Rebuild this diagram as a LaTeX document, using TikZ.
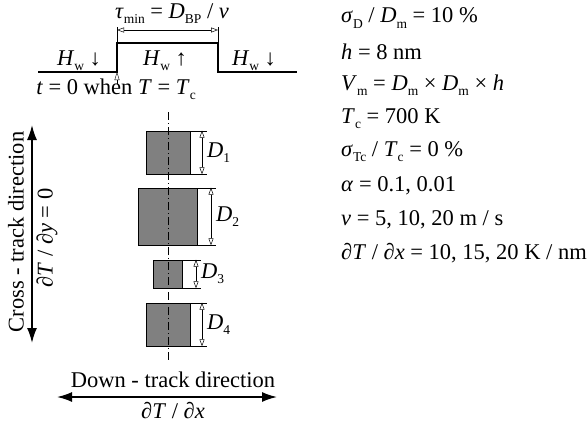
\documentclass[tikz,border=0pt]{standalone}
\usepackage{fontspec}
\setmainfont{Liberation Serif}
\usetikzlibrary{arrows.meta}
\newcommand\lo[1]{\raisebox{-0.5ex}{\fontsize{13.5}{13.5}\selectfont #1}}
\newcommand\iv[1]{\textit{#1}}
\begin{document}
\begin{tikzpicture}[x=1pt,y=-1pt,
  txt/.style={font=\fontsize{22.5}{26}\selectfont, inner sep=0pt},
  pulse/.style={line width=1.1pt},
  thin/.style={line width=0.4pt},
  dimarr/.style={line width=0.5pt,{Triangle[open,length=7pt,width=5pt]}-{Triangle[open,length=7pt,width=5pt]}},
  bigarr/.style={line width=1.6pt,{Latex[length=15pt,width=10pt]}-{Latex[length=15pt,width=10pt]}},
  sq/.style={draw=black, line width=0.6pt, fill=black!50, inner sep=0pt},
  axis/.style={line width=0.6pt, dash pattern=on 8pt off 3pt on 1pt off 3pt}]
\useasboundingbox (0,0) rectangle (587,423);
% pulse
\coordinate (p0) at (38,72);
\coordinate (p1) at (117,72);
\coordinate (p2) at (117,43);
\coordinate (p3) at (218,43);
\coordinate (p4) at (218,72);
\coordinate (p5) at (297,72);
\draw[pulse] (p0) -- (p1) -- (p2) -- (p3) -- (p4) -- (p5);
\coordinate (e1) at (117,27);
\coordinate (e2) at (218,27);
\draw[thin] (e1) -- (p2);
\draw[thin] (e2) -- (p3);
\coordinate (a1) at (117,30);
\coordinate (a2) at (218,30);
\draw[dimarr] (a1) -- (a2);
\coordinate (t0) at (117,84);
\draw[thin,-{Triangle[open,length=8pt,width=5pt]}] (t0) -- (p1);
\node[txt] (tau) at (172,14) {\iv{τ}\lo{min} = \iv{D}\lo{BP} / \iv{v}};
\node[txt] (hw1) at (79,61) {\iv{H}\lo{w} ↓};
\node[txt] (hw2) at (165,61) {\iv{H}\lo{w} ↑};
\node[txt] (hw3) at (254,61) {\iv{H}\lo{w} ↓};
\node[txt] (t0txt) at (116,89) {\iv{t} = 0 when \iv{T} = \iv{T}\lo{c}};
% squares
\node[sq, minimum width=44pt, minimum height=43pt] (s1) at (168,152.5) {};
\node[sq, minimum width=59pt, minimum height=57pt] (s2) at (167.5,216.5) {};
\node[sq, minimum width=29pt, minimum height=28pt] (s3) at (167.5,274) {};
\node[sq, minimum width=44pt, minimum height=43pt] (s4) at (168,324.5) {};
\coordinate (ax1) at (168,112);
\coordinate (ax2) at (168,362);
\draw[axis] (ax1) -- (ax2);
% dimensions
\foreach \s/\dx/\lab/\ly in {s1/202/1/152.5, s2/211/2/216.5, s3/196/3/274, s4/202/4/324.5}{
  \coordinate (\s t) at (\dx+5, 0 |- \s.north);
  \coordinate (\s b) at (\dx+5, 0 |- \s.south);
  \draw[thin] (\s.north east) -- (\s t);
  \draw[thin] (\s.south east) -- (\s b);
  \coordinate (\s dt) at (\dx, 0 |- \s.north);
  \coordinate (\s db) at (\dx, 0 |- \s.south);
  \draw[dimarr] (\s dt) -- (\s db);
  \node[txt, anchor=west] (\s lab) at (\dx+5,\ly) {\iv{D}\lo{\lab}};
}
% cross-track
\coordinate (c1) at (32,125);
\coordinate (c2) at (32,343);
\draw[bigarr] (c1) -- (c2);
\node[txt, rotate=90] (ct1) at (16,232) {Cross - track direction};
\node[txt, rotate=90] (ct2) at (47,238) {∂\iv{T} / ∂\iv{y} = 0};
% down-track
\coordinate (d1) at (57,397);
\coordinate (d2) at (277,397);
\draw[bigarr] (d1) -- (d2);
\node[txt] (dt1) at (173,380) {Down - track direction};
\node[txt] (dt2) at (173,411) {∂\iv{T} / ∂\iv{x}};
% parameters
\node[txt, anchor=west] (r1) at (341,18) {\iv{σ}\lo{D} / \iv{D}\lo{m} = 10 \%};
\node[txt, anchor=west] (r2) at (341,51.6) {\iv{h} = 8 nm};
\node[txt, anchor=west] (r3) at (341,85) {\iv{V}\lo{m} = \iv{D}\lo{m} × \iv{D}\lo{m} × \iv{h}};
\node[txt, anchor=west] (r4) at (341,119) {\iv{T}\lo{c} = 700 K};
\node[txt, anchor=west] (r5) at (341,152) {\iv{σ}\lo{Tc} / \iv{T}\lo{c} = 0 \%};
\node[txt, anchor=west] (r6) at (341,186) {\iv{α} = 0.1, 0.01};
\node[txt, anchor=west] (r7) at (341,220) {\iv{v} = 5, 10, 20 m / s};
\node[txt, anchor=west] (r8) at (341,253) {∂\iv{T} / ∂\iv{x} = 10, 15, 20 K / nm};
\end{tikzpicture}
\end{document}
